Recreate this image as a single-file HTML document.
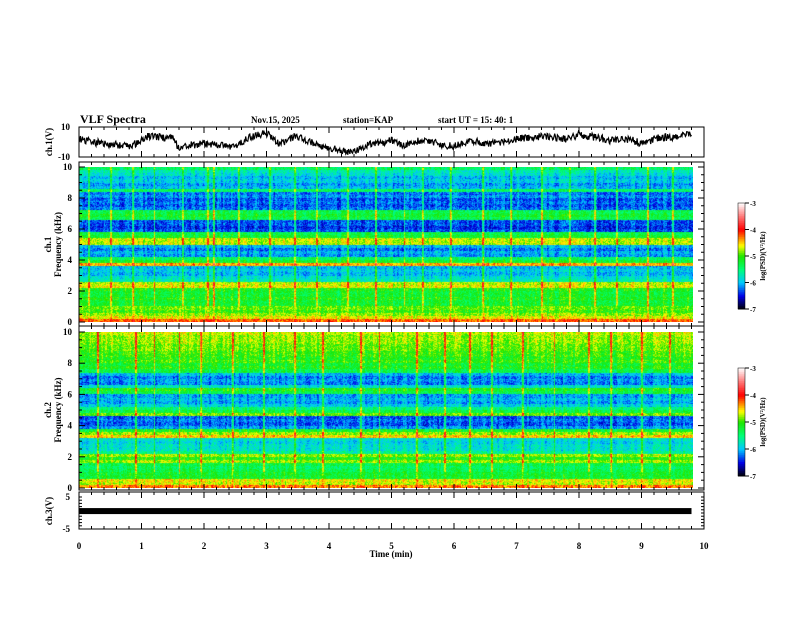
<!DOCTYPE html>
<html><head><meta charset="utf-8"><style>
body{margin:0;background:#fff;width:792px;height:612px;overflow:hidden}
svg text{font-family:"Liberation Serif",serif;font-weight:bold;fill:#000}
</style></head><body>
<svg id="fig" width="792" height="612" xmlns="http://www.w3.org/2000/svg">
<text x="80" y="123" font-size="12">VLF Spectra</text>
<text x="251" y="123" font-size="9">Nov.15, 2025</text>
<text x="343" y="123" font-size="9">station=KAP</text>
<text x="438" y="123" font-size="9">start  UT =   15: 40: 1</text>
<foreignObject x="79" y="167" width="614" height="155"><canvas xmlns="http://www.w3.org/1999/xhtml" id="c1" width="614" height="155" style="display:block;width:614px;height:155px"></canvas></foreignObject>
<foreignObject x="79" y="332" width="614" height="156"><canvas xmlns="http://www.w3.org/1999/xhtml" id="c2" width="614" height="156" style="display:block;width:614px;height:156px"></canvas></foreignObject>
<g id="axes"></g>
</svg>
<script>
// ---- data ----
const timeTicks=[0,1,2,3,4,5,6,7,8,9,10];
const freqTicks=[0,2,4,6,8,10];
const cbTicks=[-3,-4,-5,-6,-7];
const ch1Times=[0,0.2,0.4,0.6,0.8,1.0,1.1,1.3,1.5,1.6,1.8,2.0,2.2,2.5,2.7,2.9,3.0,3.2,3.5,3.8,4.0,4.2,4.4,4.6,4.8,5.0,5.2,5.5,5.8,6.0,6.3,6.5,6.8,7.0,7.3,7.5,7.8,8.0,8.3,8.5,8.8,9.0,9.3,9.5,9.8];
const ch1Volts=[2,0,-1,-2,-3,1,4,3,3,-4,-2,-1,-2,-3,3,5,6,-1,4,-2,-4,-6,-7,-2,-1,1,-3,2,-2,-3,1,-1,0,2,3,4,2,5,3,1,2,-1,3,3,6];
// log PSD per 0.2 kHz bin, from 0 to 10 kHz
const ch1Profile=[-4.2,-4.6,-4.8,-5.0,-4.9,-5.2,-5.2,-5.1,-5.2,-5.2,-5.1,-4.6,-4.7,-5.7,-5.8,-6.0,-5.9,-6.0,-4.4,-5.2,-5.4,-6.1,-6.0,-6.2,-6.0,-4.7,-4.7,-5.2,-5.3,-6.3,-6.4,-6.3,-6.3,-5.3,-5.2,-5.3,-6.2,-6.3,-6.2,-6.3,-6.1,-6.2,-5.4,-6.0,-6.1,-5.9,-6.0,-5.8,-5.7,-5.4];
const ch2Profile=[-4.3,-4.7,-4.6,-5.2,-5.2,-5.3,-5.4,-5.3,-4.8,-5.1,-4.8,-5.6,-5.8,-5.8,-5.9,-5.8,-4.5,-4.8,-5.2,-6.1,-6.3,-6.2,-6.3,-4.9,-5.3,-5.5,-5.9,-6.1,-6.0,-6.1,-5.3,-5.1,-5.8,-6.2,-6.1,-6.2,-6.0,-5.3,-5.1,-5.2,-5.0,-5.1,-5.0,-5.0,-4.9,-4.9,-4.8,-4.8,-4.8,-4.7];
const spikeTimes1=[0.15,0.5,0.85,1.2,1.65,2.05,2.15,2.55,3.05,3.45,3.8,4.3,4.75,5.2,5.5,5.95,6.45,6.9,7.4,7.85,8.25,8.6,9.1,9.5];
const spikeTimes2=[0.3,0.9,1.2,1.6,1.95,2.45,2.95,3.45,3.9,4.5,4.8,5.4,5.85,6.25,6.6,7.1,7.6,8.15,8.5,9.0,9.45];
const ch3Level=[0.6];
// ---- layout ----
const X0=79,X1=704;
const xs=t=>X0+(X1-X0)*t/10;
const NS='http://www.w3.org/2000/svg';
const ax=document.getElementById('axes');
function el(tag,attrs,txt){const e=document.createElementNS(NS,tag);for(const k in attrs)e.setAttribute(k,attrs[k]);if(txt!==undefined)e.textContent=txt;ax.appendChild(e);return e;}
function cmap(v){
 const s=[[-7,0,0,0],[-6.5,0,0,230],[-6,0,200,255],[-5.5,0,255,120],[-5,30,230,0],[-4.6,255,255,0],[-4,255,0,0],[-3.5,255,120,120],[-3,255,255,255]];
 if(v<=-7)return[0,0,0];if(v>=-3)return[255,255,255];
 for(let i=0;i<s.length-1;i++){if(v<=s[i+1][0]){const f=(v-s[i][0])/(s[i+1][0]-s[i][0]);return[0,1,2].map(j=>Math.round(s[i][j+1]+f*(s[i+1][j+1]-s[i][j+1])));}}
}
function hash(a,b){let h=(a*374761393+b*668265263)|0;h=(h^(h>>>13))*1274126177|0;return ((h^(h>>>16))>>>0)/4294967295;}
function drawSpec(id,prof,spikes,seed){
 const c=document.getElementById(id),g=c.getContext('2d'),W=c.width,H=c.height;
 const img=g.createImageData(W,H);
 const pxPerMin=(X1-X0)/10;
 for(let x=0;x<W;x++){
  const t=x/pxPerMin;let sp=0;
  for(const s of spikes){const d=Math.abs(t-s)*pxPerMin;if(d<1)sp=Math.max(sp,0.7);}
  const col=(hash(x>>1,seed)-0.5)*0.3;
  for(let y=0;y<H;y++){
   const f=10*(1-(y+0.5)/H);const bi=Math.min(prof.length-1,Math.floor(f/0.2));
   let v=prof[bi]+(hash(x,y*7+seed)-0.5)*0.5+col+sp*(f>1?1:0.3);
   const cc=cmap(v);const k=(y*W+x)*4;img.data[k]=cc[0];img.data[k+1]=cc[1];img.data[k+2]=cc[2];img.data[k+3]=255;
  }}
 g.putImageData(img,0,0);
}
drawSpec('c1',ch1Profile,spikeTimes1,11);
drawSpec('c2',ch2Profile,spikeTimes2,29);
const frames=[[127,157,'ch1-panel-frame'],[162,326,'ch1-spectrogram-frame'],[326,490,'ch2-spectrogram-frame'],[492,529,'ch3-panel-frame']];
for(const f of frames){const r=el('rect',{x:X0,y:f[0],width:X1-X0,height:f[1]-f[0],fill:'none',stroke:'#000','stroke-width':1});

}
for(const f of frames){for(let t=0;t<=10.001;t+=0.2){const big=Math.abs(t-Math.round(t))<0.01;const x=xs(t);
 el('line',{x1:x,x2:x,y1:f[0],y2:f[0]+(big?6:3),stroke:'#000'});el('line',{x1:x,x2:x,y1:f[1],y2:f[1]-(big?6:3),stroke:'#000'});}}
timeTicks.forEach(t=>{const e=el('text',{x:xs(t),y:549,'font-size':9,'text-anchor':'middle'},t);

});
const xt=el('text',{x:391,y:557,'font-size':9,'text-anchor':'middle'},'Time  (min)');


const y1=v=>142-15*v/10;
let d='';const nPts=900;
for(let i=0;i<=nPts;i++){const t=9.8*i/nPts;let j=0;while(j<ch1Times.length-2&&ch1Times[j+1]<t)j++;
 const f=(t-ch1Times[j])/(ch1Times[j+1]-ch1Times[j]);const v=ch1Volts[j]+f*(ch1Volts[j+1]-ch1Volts[j])+(hash(i,3)-0.5)*5;
 d+=(i?'L':'M')+xs(t).toFixed(1)+' '+y1(v).toFixed(1);}
const wl=el('path',{d:d,fill:'none',stroke:'#000','stroke-width':1.2});


[[10,127],[-10,157]].forEach(p=>el('text',{x:70,y:p[1]+3,'font-size':9,'text-anchor':'end'},p[0]));
el('text',{x:0,y:0,'font-size':9,'text-anchor':'middle',transform:'translate(52,142) rotate(-90)'},'ch.1(V)');
function fAxis(top,bot,label,name){
 const ys=f=>bot-(bot-top)*f/10;
 for(let f=0;f<=10;f+=0.5){const big=f%2===0;el('line',{x1:X0,x2:X0+(big?6:3),y1:ys(f),y2:ys(f),stroke:'#000'});el('line',{x1:X1,x2:X1-(big?6:3),y1:ys(f),y2:ys(f),stroke:'#000'});}
 freqTicks.forEach(f=>{const e=el('text',{x:72,y:ys(f)+3,'font-size':9,'text-anchor':'end'},f);
 
 });
 const cy=(top+bot)/2;
 el('text',{x:0,y:0,'font-size':9,'text-anchor':'middle',transform:`translate(51,${cy}) rotate(-90)`},label);
 el('text',{x:0,y:0,'font-size':9,'text-anchor':'middle',transform:`translate(61,${cy}) rotate(-90)`},'Frequency  (kHz)');
}
fAxis(167,322,'ch.1','ch1');fAxis(332,488,'ch.2','ch2');
const y3=v=>513-16*v/5;
[[5,497],[-5,529]].forEach(p=>el('text',{x:70,y:p[1]+3,'font-size':9,'text-anchor':'end'},p[0]));
for(let v=-5;v<=5;v+=1){el('line',{x1:X0,x2:X0+3,y1:y3(v),y2:y3(v),stroke:'#000'});el('line',{x1:X1,x2:X1-3,y1:y3(v),y2:y3(v),stroke:'#000'});}
el('text',{x:0,y:0,'font-size':9,'text-anchor':'middle',transform:'translate(52,511) rotate(-90)'},'ch.3(V)');
const bar=el('rect',{x:X0,y:y3(ch3Level[0])-3,width:xs(9.8)-X0,height:6,fill:'#000'});


function cbar(top,bot,name){
 const n=60;for(let i=0;i<n;i++){const v=-7+4*(i+0.5)/n;const c=cmap(v);const h=(bot-top)/n;
 el('rect',{x:738,y:bot-(i+1)*h,width:7,height:h+0.5,fill:`rgb(${c})`});}
 const o=el('rect',{x:738,y:top,width:7,height:bot-top,fill:'none',stroke:'#000','stroke-width':0.5});
 
 
 cbTicks.forEach(v=>{const y=bot-(bot-top)*(v+7)/4;el('line',{x1:745,x2:749,y1:y,y2:y,stroke:'#000'});el('text',{x:750,y:y+3,'font-size':7},v);});
 el('text',{x:0,y:0,'font-size':7,'text-anchor':'middle',transform:`translate(765,${(top+bot)/2}) rotate(-90)`},'log(PSD)(V²/Hz)');
}
cbar(203,309,'ch1-colorbar');cbar(368,476,'ch2-colorbar');
</script>
</body></html>
